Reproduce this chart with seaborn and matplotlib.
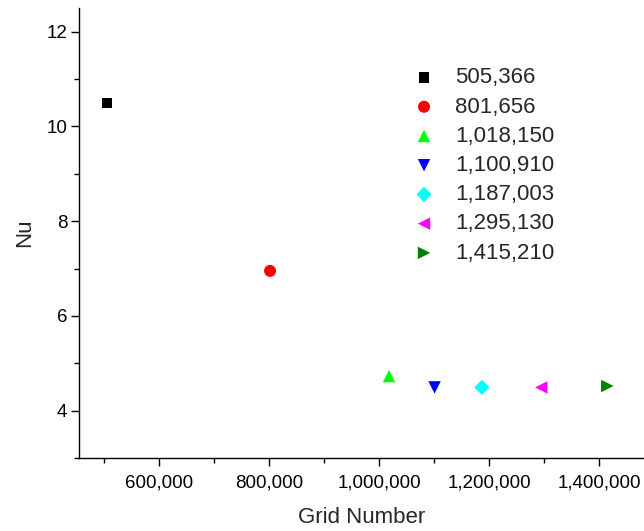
import matplotlib
matplotlib.use("Agg")
import matplotlib.pyplot as plt
import matplotlib.ticker as mticker
import seaborn as sns
import pandas as pd

# Grid-independence study: Nusselt number for each mesh size
grid_numbers = [505366, 801656, 1018150, 1100910, 1187003, 1295130, 1415210]
nu_values = [10.50, 6.95, 4.73, 4.49, 4.49, 4.49, 4.52]
grid_labels = ["505,366", "801,656", "1,018,150", "1,100,910",
               "1,187,003", "1,295,130", "1,415,210"]
colors = ["#000000", "#ff0000", "#00ff00", "#0000ff", "#00ffff", "#ff00ff", "#008000"]
markers = ["s", "o", "^", "v", "D", "<", ">"]
marker_sizes = [55, 75, 80, 80, 60, 80, 80]

df = pd.DataFrame({"grid": grid_numbers, "Nu": nu_values, "label": grid_labels})

sns.set_theme(style="ticks")
plt.rcParams["font.family"] = ["Liberation Sans", "DejaVu Sans"]

fig = plt.figure(figsize=(6.44, 5.31), dpi=100)
ax = fig.add_axes([0.1227, 0.1375, 0.8773, 0.8475])

for lab, col, mk, sz in zip(grid_labels, colors, markers, marker_sizes):
    sub = df[df["label"] == lab]
    sns.scatterplot(data=sub, x="grid", y="Nu", color=col, marker=mk, s=sz,
                    edgecolor="none", linewidth=0, label=lab, ax=ax)

ax.set_xlim(454000, 1482000)
ax.set_ylim(3.0, 12.5)
ax.xaxis.set_major_locator(mticker.MultipleLocator(200000))
ax.xaxis.set_minor_locator(mticker.MultipleLocator(100000))
ax.yaxis.set_major_locator(mticker.MultipleLocator(2))
ax.yaxis.set_minor_locator(mticker.MultipleLocator(1))
ax.xaxis.set_major_formatter(mticker.FuncFormatter(lambda v, p: f"{int(v):,}"))
ax.yaxis.set_major_formatter(mticker.FuncFormatter(lambda v, p: f"{int(v)}"))

ax.tick_params(which="major", direction="out", length=6, width=1.0,
               labelsize=13.5, color="black", labelcolor="black")
ax.tick_params(which="minor", direction="out", length=3.5, width=1.0, color="black")
ax.tick_params(axis="x", which="major", pad=6)
ax.tick_params(axis="y", which="major", pad=2.5)

for side in ["top", "right"]:
    ax.spines[side].set_visible(False)
for side in ["left", "bottom"]:
    ax.spines[side].set_linewidth(1.0)
    ax.spines[side].set_color("black")

ax.set_xlabel("Grid Number", fontsize=16, labelpad=11)
ax.set_ylabel("Nu", fontsize=16, labelpad=8)

ax.legend(loc="upper left", bbox_to_anchor=(0.591, 0.868), frameon=False,
          fontsize=16, handletextpad=0.9, labelspacing=0.37,
          borderaxespad=0, borderpad=0, handlelength=1.0)

fig.savefig("out.png", dpi=100)
